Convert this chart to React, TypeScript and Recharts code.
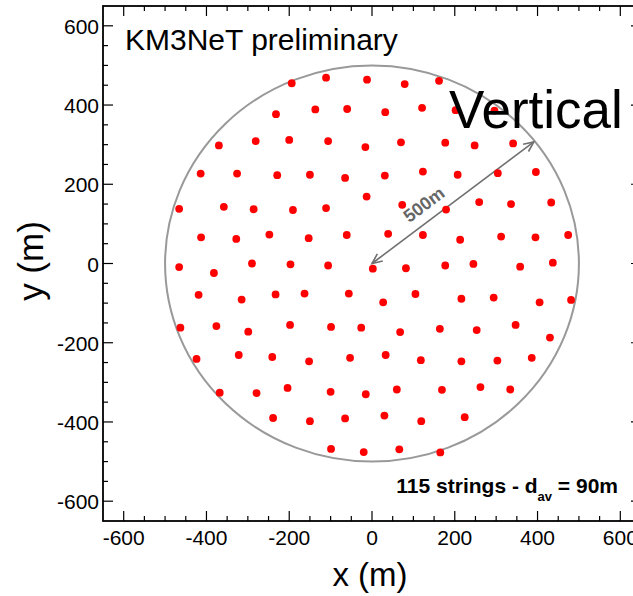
import React from "react";
import {
  ScatterChart,
  Scatter,
  XAxis,
  YAxis,
  ReferenceArea,
  ReferenceLine,
} from "recharts";

// string positions (m)
const xs = [
  -194, -111, -12, -232, -137, -60, -370, -281, -200, -106, -16, -414, -326, -229, -150, -65,
  -13, -466, -358, -286, -191, -111, -413, -328, -248, -153, -61, -466, -290, -197, -106, 2,
  -382, -419, -315, -233, -163, -56, -463, -376, -299, -198, -99, -26, -424, -322, -241, -152,
  -53, -368, -279, -204, -100, -15, -239, -150, -65, -99, -20, 79, 162, 32, 121, 202,
  296, 70, 177, 248, 341, 31, 123, 207, 304, 396, 73, 179, 259, 336, 433, 39,
  123, 213, 312, 395, 474, 82, 177, 245, 358, 437, 27, 105, 216, 294, 405, 481,
  68, 164, 253, 347, 430, 33, 118, 216, 303, 386, 60, 169, 262, 334, 30, 119,
  224, 66, 165,
];
const ys = [
  455, 469, 464, 377, 389, 390, 298, 309, 312, 309, 294, 227, 227, 223, 224, 216,
  169, 138, 143, 137, 135, 140, 66, 62, 73, 64, 72, -9, 0, -2, -5, -13,
  -24, -79, -91, -78, -76, -76, -162, -158, -172, -155, -160, -162, -241, -231, -236, -247,
  -238, -326, -327, -314, -324, -330, -390, -398, -391, -468, -476, 453, 461, 382, 393, 387,
  386, 306, 305, 298, 303, 222, 232, 224, 228, 231, 148, 136, 155, 150, 154, 75,
  72, 60, 68, 66, 72, -12, -5, -1, -8, 2, -98, -77, -89, -86, -98, -92,
  -173, -165, -168, -155, -187, -231, -244, -247, -245, -238, -318, -319, -312, -318, -384, -398,
  -388, -469, -477,
];

const axisTicks = [
  -600, -550, -500, -450, -400, -350, -300, -250, -200, -150, -100, -50, 0,
  50, 100, 150, 200, 250, 300, 350, 400, 450, 500, 550, 600,
];
const labelTicks = [-600, -400, -200, 0, 200, 400, 600];
const domain = [-650, 650];
const detectorRadius = 500;
const arrowTip = { x: 391, y: 307 };

const font = "'Liberation Sans', Arial, Helvetica, sans-serif";
const points = xs.map((x, i) => ({ x, y: ys[i] }));

// chart geometry: frame is 103..641 x 6..521, right edge runs past the window
const W = 660;
const H = 596;
const margin = { top: 6, right: 19, bottom: 35, left: 43 };
const leftW = 60;
const bottomH = 40;
const frame = {
  left: margin.left + leftW,
  right: W - margin.right,
  top: margin.top,
  bottom: H - margin.bottom - bottomH,
};

const tickLen = (v: number) => (labelTicks.includes(v) ? 10 : 5);

// ticks point into the frame on all four sides, labels sit outside
const BottomTick = (p: any) => {
  const v = p.payload.value;
  const x = p.payload.coordinate;
  return (
    <g>
      <line x1={x} x2={x} y1={frame.bottom} y2={frame.bottom - tickLen(v)} stroke="#000" strokeWidth={1.2} />
      <line x1={x} x2={x} y1={frame.top} y2={frame.top + tickLen(v)} stroke="#000" strokeWidth={1.2} />
      {labelTicks.includes(v) && (
        <text x={x} y={frame.bottom + 24} textAnchor="middle" fontSize={21} fontFamily={font} fill="#000">
          {v}
        </text>
      )}
    </g>
  );
};

const LeftTick = (p: any) => {
  const v = p.payload.value;
  const y = p.payload.coordinate;
  return (
    <g>
      <line x1={frame.left} x2={frame.left + tickLen(v)} y1={y} y2={y} stroke="#000" strokeWidth={1.2} />
      <line x1={frame.right} x2={frame.right - tickLen(v)} y1={y} y2={y} stroke="#000" strokeWidth={1.2} />
      {labelTicks.includes(v) && (
        <text x={frame.left - 4} y={y + 8} textAnchor="end" fontSize={21} fontFamily={font} fill="#000">
          {v}
        </text>
      )}
    </g>
  );
};

// circle in metres -> ellipse on screen, the two scales differ a bit
const CircleShape = (p: any) => (
  <ellipse
    cx={p.x + p.width / 2}
    cy={p.y + p.height / 2}
    rx={Math.abs(p.width) / 2}
    ry={Math.abs(p.height) / 2}
    fill="none"
    stroke="#999"
    strokeWidth={2}
  />
);

const FrameShape = (p: any) => (
  <rect x={p.x} y={p.y} width={p.width} height={p.height} fill="none" stroke="#000" strokeWidth={1.8} />
);

const ArrowShape = (p: any) => {
  const { x1, y1, x2, y2 } = p;
  const a = Math.atan2(y2 - y1, x2 - x1);
  const L = 11;
  const s = 0.42;
  const head = (x: number, y: number, d: number) =>
    `M${x + L * Math.cos(d + s)},${y + L * Math.sin(d + s)}L${x},${y}L${x + L * Math.cos(d - s)},${y + L * Math.sin(d - s)}`;
  const t = 0.38;
  const lx = x1 + (x2 - x1) * t + 16 * Math.sin(a);
  const ly = y1 + (y2 - y1) * t - 16 * Math.cos(a);
  return (
    <g stroke="#707070" strokeWidth={1.6} fill="none">
      <line x1={x1} y1={y1} x2={x2} y2={y2} />
      <path d={head(x1, y1, a)} />
      <path d={head(x2, y2, a + Math.PI)} />
      <text
        x={lx}
        y={ly}
        dy="0.35em"
        textAnchor="middle"
        transform={`rotate(${(a * 180) / Math.PI} ${lx} ${ly})`}
        fontSize={18}
        fontWeight="bold"
        fontFamily={font}
        fill="#666"
        stroke="none"
      >
        500m
      </text>
    </g>
  );
};

export default function App() {
  return (
    <div style={{ position: "absolute", left: 0, top: 0, width: 633, height: 596, overflow: "hidden", background: "#fff" }}>
      <ScatterChart width={W} height={H} margin={margin}>
        <XAxis
          type="number"
          dataKey="x"
          domain={domain}
          ticks={axisTicks}
          interval={0}
          allowDataOverflow
          height={bottomH}
          tickLine={false}
          tick={BottomTick}
          axisLine={false}
        />
        <YAxis
          type="number"
          dataKey="y"
          domain={domain}
          ticks={axisTicks}
          interval={0}
          allowDataOverflow
          width={leftW}
          tickLine={false}
          tick={LeftTick}
          axisLine={false}
        />
        {/* full frame round the plot */}
        <ReferenceArea
          x1={domain[0]}
          x2={domain[1]}
          y1={domain[0]}
          y2={domain[1]}
          ifOverflow="visible"
          shape={FrameShape}
        />
        <ReferenceArea
          x1={-detectorRadius}
          x2={detectorRadius}
          y1={-detectorRadius}
          y2={detectorRadius}
          shape={CircleShape}
        />
        <ReferenceLine
          segment={[{ x: 0, y: 0 }, arrowTip]}
          shape={ArrowShape}
        />
        <Scatter
          data={points}
          isAnimationActive={false}
          shape={(p: any) => <circle cx={p.cx} cy={p.cy} r={3.9} fill="#ff0000" />}
        />
      </ScatterChart>

      <svg
        width={633}
        height={596}
        style={{ position: "absolute", left: 0, top: 0, pointerEvents: "none" }}
        fontFamily={font}
      >
        <text x={125} y={50} fontSize={30} fill="#000">KM3NeT preliminary</text>
        <text x={449} y={128} fontSize={53} fill="#000">Vertical</text>
        <text x={618} y={493} fontSize={21} fontWeight="bold" textAnchor="end" fill="#000">
          115 strings - d
          <tspan fontSize={13} dy={8}>av</tspan>
          <tspan fontSize={21} dy={-8}> = 90m</tspan>
        </text>
        <text x={370} y={586} fontSize={33} textAnchor="middle" fill="#000">x (m)</text>
        <text x={43} y={261} fontSize={35} textAnchor="middle" fill="#000" transform="rotate(-90 43 261)">
          y (m)
        </text>
      </svg>
    </div>
  );
}
